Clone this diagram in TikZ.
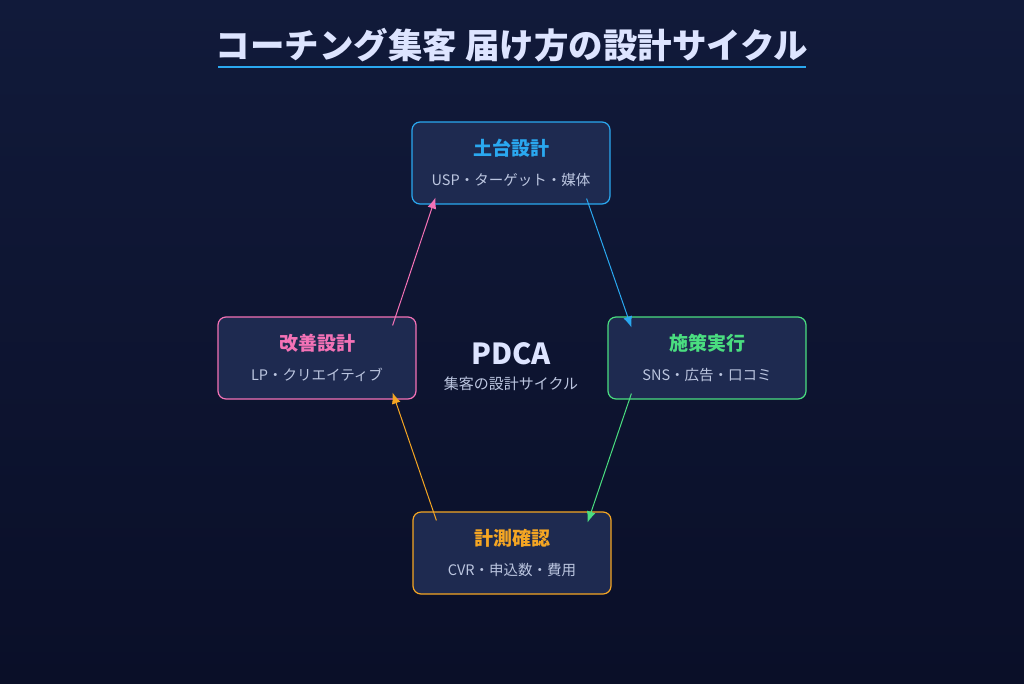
\documentclass[tikz,border=0pt]{standalone}
\usepackage{fontspec}
\setmainfont{Noto Sans CJK JP}
\usetikzlibrary{positioning,arrows.meta}
\definecolor{bgtop}{HTML}{111A3A}
\definecolor{bgbot}{HTML}{0A0F28}
\definecolor{boxfill}{HTML}{1E2A50}
\definecolor{subtxt}{HTML}{BCC6E0}
\definecolor{cplan}{HTML}{2AA8F0}
\definecolor{cdo}{HTML}{4ADE80}
\definecolor{ccheck}{HTML}{F5A623}
\definecolor{cact}{HTML}{F472B6}
\definecolor{ctitle}{HTML}{DDE4FF}
\tikzset{
  stage/.style={draw=#1, fill=boxfill, line width=1.2pt, rounded corners=8pt,
    minimum width=198pt, minimum height=82pt, inner sep=0},
  flow/.style={draw=#1, line width=1pt, -{Latex[length=11pt,width=9pt]}}
}
\newcommand{\stagetext}[3]{{\fontsize{19}{22}\selectfont\bfseries\color{#1}#2}\\[15pt]{\fontsize{14.5}{17}\selectfont\color{subtxt}#3}}
\begin{document}
\begin{tikzpicture}[x=1pt,y=-1pt]
	\shade[top color=bgtop, bottom color=bgbot] (0,0) rectangle (1024,683);
	\useasboundingbox (0,0) rectangle (1024,683);
	% title
	\node (title) at (512,45) {\fontsize{34.5}{40}\selectfont\bfseries\color{ctitle}コーチング集客 届け方の設計サイクル};
	\draw[cplan, line width=2pt] (218,67) -- (806,67);
	% stages
	\node[stage=cplan, align=center] (plan) at (511,163) {\stagetext{cplan}{土台設計}{USP・ターゲット・媒体}};
	\node[stage=cdo, align=center] (do) at (707,358) {\stagetext{cdo}{施策実行}{SNS・広告・口コミ}};
	\node[stage=ccheck, align=center] (check) at (512,553) {\stagetext{ccheck}{計測確認}{CVR・申込数・費用}};
	\node[stage=cact, align=center] (act) at (317,358) {\stagetext{cact}{改善設計}{LP・クリエイティブ}};
	% centre
	\node (pdca) at (511,354) {\fontsize{29}{32}\selectfont\bfseries\color{ctitle}PDCA};
	\node (cycle) at (511,384) {\fontsize{15}{17}\selectfont\color{subtxt}集客の設計サイクル};
	% arrows
	\draw[flow=cplan] ([xshift=-24pt,yshift=6pt]plan.south east) -- ([xshift=24pt,yshift=-11pt]do.north west);
	\draw[flow=cdo] ([xshift=24pt,yshift=6pt]do.south west) -- ([xshift=-24pt,yshift=-11pt]check.north east);
	\draw[flow=ccheck] ([xshift=24pt,yshift=-9pt]check.north west) -- ([xshift=-24pt,yshift=7pt]act.south east);
	\draw[flow=cact] ([xshift=-24pt,yshift=-9pt]act.north east) -- ([xshift=24pt,yshift=7pt]plan.south west);
\end{tikzpicture}
\end{document}
